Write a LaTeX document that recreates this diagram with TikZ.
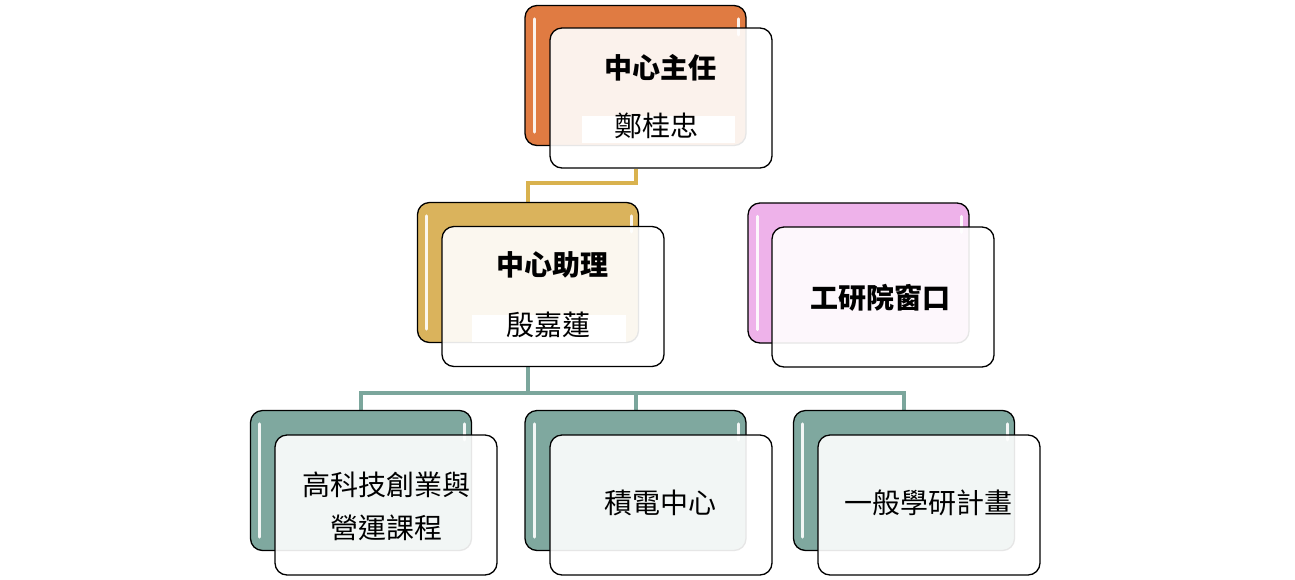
\documentclass[tikz,border=0pt]{standalone}
\usepackage{fontspec}
\newfontfamily\cjk{Noto Sans CJK TC}
\usetikzlibrary{calc}
\definecolor{cOrange}{HTML}{E07B42}
\definecolor{cGold}{HTML}{DAB35C}
\definecolor{cPink}{HTML}{EEB2EA}
\definecolor{cTeal}{HTML}{7FA89F}
\definecolor{lGold}{HTML}{D9B24E}
\definecolor{lTeal}{HTML}{7BA69C}
\tikzset{
  back/.style={draw=black, line width=1.3pt, rounded corners=12pt, minimum width=221pt, minimum height=140pt, inner sep=0pt, fill=#1},
  front/.style={draw=black, line width=1.3pt, rounded corners=12pt, minimum width=222pt, minimum height=140pt, inner sep=0pt, fill=white, fill opacity=0.9},
  gloss/.style={white, line width=3pt, line cap=round, opacity=0.9},
  conn/.style={line width=4pt, draw=#1},
  txt/.style={font=\cjk\fontsize{28}{43}\selectfont, text=black, inner sep=0pt, align=center},
  btxt/.style={font=\cjk\bfseries\fontsize{28}{34}\selectfont, text=black, inner sep=0pt},
  strip/.style={fill=white, inner sep=0pt, minimum height=27pt}
}
\begin{document}
\begin{tikzpicture}[x=1pt,y=-1pt]
\useasboundingbox[fill=white] (0,0) rectangle (1295,579);

\path
  (635.5,75.5) coordinate (topBc)
  (528,272.5) coordinate (asBc)
  (858.5,273) coordinate (wiBc)
  (361,480.5) coordinate (b1Bc)
  (635.5,480.5) coordinate (b2Bc)
  (904,480.5) coordinate (b3Bc);

% invisible anchors for the connectors
\node[back=none, draw=none, fill=none] (topB) at (topBc) {};
\node[front, draw=none, fill=none] (topF) at (661,98) {};
\node[back=none, draw=none, fill=none] (asB) at (asBc) {};
\node[front, draw=none, fill=none] (asF) at (553,296.5) {};
\node[back=none, draw=none, fill=none] (b1B) at (b1Bc) {};
\node[back=none, draw=none, fill=none] (b2B) at (b2Bc) {};
\node[back=none, draw=none, fill=none] (b3B) at (b3Bc) {};

\draw[conn=lGold] (topB.south |- topF.south) -- ++(0,14) -| (asB.north);
\draw[conn=lTeal] (asB.south |- asF.south) -- ++(0,26) coordinate (bus);
\draw[conn=lTeal] (b1B.north) -- (b1B.north |- bus) -| (b3B.north);
\draw[conn=lTeal] (b2B.north) -- (b2B.north |- bus);

% ---- top: director
\node[back=cOrange] (topBack) at (topBc) {};
\draw[gloss] ($(topBack.north west)+(10,14)$) -- ($(topBack.south west)+(10,-14)$);
\draw[gloss] ($(topBack.north east)+(-8,14)$) -- ($(topBack.north east)+(-8,30)$);
\node[front] (topFront) at (661,98) {};
\node[strip, minimum width=153pt] (topStrip) at (658.5,129.5) {};
\node[btxt] (topT) at (660,68) {中心主任};
\node[txt] (topN) at (656,126) {鄭桂忠};

% ---- assistant
\node[back=cGold] (asBack) at (asBc) {};
\draw[gloss] ($(asBack.north west)+(10,14)$) -- ($(asBack.south west)+(10,-14)$);
\draw[gloss] ($(asBack.north east)+(-8,14)$) -- ($(asBack.north east)+(-8,30)$);
\node[front] (asFront) at (553,296.5) {};
\node[strip, minimum width=154pt] (asStrip) at (549,328.5) {};
\node[btxt] (asT) at (552,265) {中心助理};
\node[txt] (asN) at (548,325) {殷嘉蓮};

% ---- ITRI window
\node[back=cPink] (wiBack) at (wiBc) {};
\draw[gloss] ($(wiBack.north west)+(10,14)$) -- ($(wiBack.south west)+(10,-14)$);
\draw[gloss] ($(wiBack.north east)+(-8,14)$) -- ($(wiBack.north east)+(-8,30)$);
\node[front] (wiFront) at (883,297) {};
\node[btxt] (wiT) at (880,298) {工研院窗口};

% ---- bottom row
\node[back=cTeal] (b1Back) at (b1Bc) {};
\draw[gloss] ($(b1Back.north west)+(10,14)$) -- ($(b1Back.south west)+(10,-14)$);
\draw[gloss] ($(b1Back.north east)+(-8,14)$) -- ($(b1Back.north east)+(-8,30)$);
\node[front] (b1Front) at (386,505) {};
\node[txt] (b1T) at (386,506) {高科技創業與\\營運課程};

\node[back=cTeal] (b2Back) at (b2Bc) {};
\draw[gloss] ($(b2Back.north west)+(10,14)$) -- ($(b2Back.south west)+(10,-14)$);
\draw[gloss] ($(b2Back.north east)+(-8,14)$) -- ($(b2Back.north east)+(-8,30)$);
\node[front] (b2Front) at (661,505) {};
\node[txt] (b2T) at (660,503) {積電中心};

\node[back=cTeal] (b3Back) at (b3Bc) {};
\draw[gloss] ($(b3Back.north west)+(10,14)$) -- ($(b3Back.south west)+(10,-14)$);
\draw[gloss] ($(b3Back.north east)+(-8,14)$) -- ($(b3Back.north east)+(-8,30)$);
\node[front] (b3Front) at (929,505) {};
\node[txt] (b3T) at (928,503) {一般學研計畫};
\end{tikzpicture}
\end{document}
